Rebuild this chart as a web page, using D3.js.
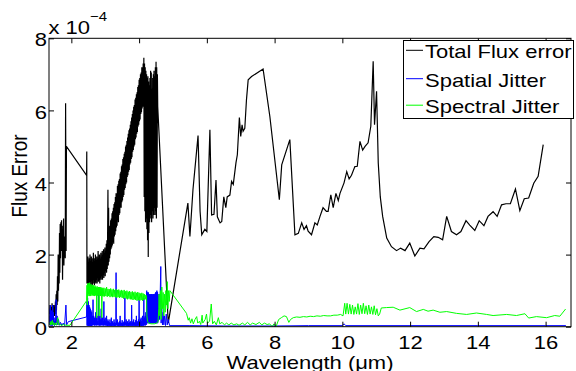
<!DOCTYPE html>
<html><head><meta charset="utf-8">
<script src="https://cdn.jsdelivr.net/npm/d3@7"></script>
<style>body{margin:0;background:#fff}</style>
</head><body>
<svg id="chart" width="576" height="371"></svg>
<script>
// wavelength (µm), flux error (units of 1e-4)
const totalFluxError = [
[1.36,0.35],[1.37,0.6],[1.38,0.2],[1.39,0.55],[1.40,0.25],[1.41,0.5],[1.42,0.3],[1.43,0.65],[1.44,0.3],[1.45,0.55],[1.46,0.25],[1.47,0.6],[1.48,0.35],[1.49,0.5],[1.50,0.3],[1.51,0.6],[1.52,0.4],[1.53,0.7],[1.54,0.35],[1.55,0.9],[1.56,0.45],[1.57,1.0],[1.58,0.6],[1.59,1.4],[1.60,0.7],[1.61,2.0],[1.62,1.0],[1.63,1.8],[1.64,1.2],[1.65,2.6],[1.66,1.5],[1.67,2.85],[1.68,1.9],[1.69,2.9],[1.70,2.1],[1.71,2.95],[1.72,2.3],[1.73,2.8],[1.74,1.3],[1.75,2.7],[1.76,2.0],[1.77,3.0],[1.78,1.7],[1.79,2.5],[1.80,2.0],[1.81,2.3],[1.82,1.9],[1.83,6.2],[1.845,2.1],[1.855,5.0],
[2.45,4.2],[2.455,4.86],
[2.46,1.2],[2.47,1.85],[2.48,1.15],[2.49,1.95],[2.50,1.1],[2.51,1.7],[2.52,1.3],[2.53,1.9],[2.54,1.15],[2.55,2.0],[2.56,1.25],[2.57,1.8],[2.58,1.1],[2.59,1.95],[2.60,1.3],[2.61,1.75],[2.62,1.15],[2.63,1.9],[2.64,1.2],[2.65,2.05],[2.66,1.3],[2.67,1.8],[2.68,1.15],[2.69,1.9],[2.70,1.25],[2.71,2.0],[2.72,1.2],[2.73,1.85],[2.74,1.3],[2.75,1.95],[2.76,1.2],[2.77,1.8],[2.78,1.35],[2.79,2.1],[2.80,1.25],[2.81,1.9],[2.82,1.3],[2.83,2.0],[2.84,1.2],[2.85,1.85],[2.86,1.35],[2.87,2.05],[2.88,1.3],[2.89,1.9],[2.90,1.4],[2.91,2.1],[2.92,1.3],[2.93,1.95],[2.94,1.45],[2.95,2.15],[2.96,1.35],[2.97,2.0],[2.98,1.5],[2.99,2.2],[3.00,1.4],[3.01,2.1],[3.02,1.55],[3.03,2.3],[3.04,1.5],[3.05,2.4],[3.06,1.6],[3.07,2.5],[3.08,3.8],[3.09,1.7],[3.10,3.3],[3.11,1.8],[3.12,2.6],[3.13,1.9],[3.14,2.8],
[3.15,2.0],[3.16,2.95],[3.17,2.15],[3.18,3.0],[3.19,2.2],[3.20,3.15],[3.21,2.25],[3.22,3.2],[3.23,2.35],[3.24,3.3],[3.25,2.3],[3.26,3.4],[3.27,2.5],[3.28,3.45],[3.29,2.55],[3.30,3.6],[3.31,2.65],[3.32,3.7],[3.33,2.75],[3.34,3.7],[3.35,2.8],[3.36,3.9],[3.37,2.95],[3.38,3.95],[3.39,2.9],[3.40,4.05],[3.41,3.1],[3.42,4.1],[3.43,3.15],[3.44,4.25],[3.45,3.3],[3.46,4.3],[3.47,3.3],[3.48,4.45],[3.49,3.45],[3.50,4.5],[3.51,3.5],[3.52,4.65],[3.53,3.6],[3.54,4.7],[3.55,3.65],[3.56,4.8],[3.57,3.8],[3.58,4.85],[3.59,3.85],[3.60,5.0],[3.61,3.95],[3.62,5.05],[3.63,4.0],[3.64,5.15],[3.65,4.15],[3.66,5.25],[3.67,4.2],[3.68,5.35],[3.69,4.3],[3.70,5.45],[3.71,4.35],[3.72,5.5],[3.73,4.5],[3.74,5.6],[3.75,4.55],[3.76,5.7],[3.77,4.65],[3.78,5.8],[3.79,4.7],[3.80,5.9],[3.81,4.85],[3.82,6.0],[3.83,4.9],[3.84,6.1],[3.85,5.0],[3.86,6.15],[3.87,5.05],[3.88,6.3],[3.89,5.2],[3.90,6.35],[3.91,5.25],[3.92,6.45],[3.93,5.35],[3.94,6.5],[3.95,5.4],[3.96,6.65],[3.97,5.55],[3.98,6.7],[3.99,5.6],[4.00,6.85],[4.01,5.7],[4.02,6.9],[4.03,5.75],[4.04,7.0],[4.05,5.9],[4.06,7.05],[4.07,5.95],[4.08,7.2],[4.09,6.05],[4.10,7.2],[4.11,6.1],[4.12,7.3],[4.13,6.2],[4.14,7.46],
[4.15,3.6],[4.16,7.3],[4.17,3.2],[4.18,7.2],[4.19,2.9],[4.20,7.1],[4.21,3.0],[4.22,7.0],[4.23,2.7],[4.24,6.9],[4.25,2.4],[4.26,6.95],[4.27,1.93],[4.28,6.8],[4.29,2.6],[4.30,6.7],[4.31,2.9],[4.32,6.9],[4.33,3.1],[4.34,7.1],[4.35,3.0],[4.36,7.05],[4.37,2.9],[4.38,6.6],[4.39,3.2],[4.40,6.9],[4.41,3.0],[4.42,7.0],[4.43,3.1],[4.44,7.1],[4.45,3.3],[4.46,6.95],[4.47,3.1],[4.48,7.2],[4.49,3.2],[4.50,7.35],[4.51,3.0],[4.52,7.2],[4.53,3.3],[4.54,7.0],[4.55,6.1],
[4.86,0.1],[5.44,3.43],[5.50,2.5],[5.59,3.8],[5.74,5.3],[5.80,3.2],[5.85,2.55],[5.94,2.7],[6.00,2.64],[6.09,5.46],[6.14,3.1],[6.21,3.12],[6.27,4.07],[6.31,3.05],[6.39,2.88],[6.44,2.92],[6.50,3.6],[6.56,3.3],[6.60,3.6],[6.68,3.65],[6.73,4.03],[6.78,3.95],[6.86,4.55],[6.90,4.77],[6.96,5.8],[7.00,5.28],[7.04,5.6],[7.07,5.42],[7.12,5.5],[7.17,6.3],[7.22,6.85],[7.32,6.94],[7.66,7.15],[7.86,5.83],[8.14,3.52],[8.21,4.49],[8.45,5.19],[8.60,2.55],[8.70,2.59],[8.80,2.88],[8.87,2.7],[8.94,2.8],[8.99,2.65],[9.09,2.55],[9.19,2.88],[9.26,2.82],[9.34,3.06],[9.43,3.3],[9.53,3.2],[9.58,3.2],[9.66,3.66],[9.73,3.3],[9.81,3.7],[9.88,3.5],[9.93,3.7],[10.05,3.99],[10.13,4.3],[10.20,4.1],[10.27,4.2],[10.37,4.44],[10.44,4.45],[10.52,5.14],[10.60,4.9],[10.67,5.0],[10.76,5.1],[10.84,5.56],[10.91,7.36],[10.95,5.6],[11.01,6.53],[11.06,4.54],[11.12,3.6],[11.19,3.06],[11.31,2.46],[11.45,2.22],[11.60,2.11],[11.72,2.18],[11.85,2.11],[11.99,2.32],[12.14,1.96],[12.29,2.18],[12.41,2.16],[12.56,2.36],[12.70,2.5],[12.83,2.48],[12.96,2.41],[13.08,3.06],[13.22,2.64],[13.37,2.55],[13.50,2.64],[13.65,2.94],[13.76,2.82],[13.91,2.67],[14.04,2.94],[14.18,2.8],[14.30,3.06],[14.45,3.19],[14.57,3.06],[14.70,3.38],[14.83,3.41],[14.96,3.41],[15.11,3.82],[15.24,3.22],[15.37,3.55],[15.50,3.57],[15.65,3.98],[15.78,4.17],[15.93,5.05]
];
const spatialJitter = [
[1.36,0.3],[1.365,0.05],[1.37,0.5],[1.375,0.1],[1.38,0.6],[1.385,0.05],[1.39,0.35],[1.40,0.02],[1.41,0.45],[1.42,0.08],[1.43,0.3],[1.44,0.03],[1.45,0.6],[1.46,0.1],[1.47,0.4],[1.48,0.05],[1.49,0.25],[1.50,0.03],[1.51,0.15],[1.53,0.05],[1.55,0.75],[1.56,0.1],[1.58,0.3],[1.60,0.05],[1.62,0.2],[1.65,0.04],[1.68,0.12],[1.72,0.04],[1.76,0.1],[1.80,0.03],[1.84,0.6],[1.86,0.05],[1.91,0.14],[2.45,0.27],
[2.46,0.7],[2.465,0.03],[2.47,0.6],[2.475,0.05],[2.48,0.8],[2.485,0.03],[2.49,0.65],[2.495,0.04],[2.50,0.7],[2.505,0.02],[2.51,0.55],[2.515,0.05],[2.52,0.6],[2.525,0.03],[2.53,0.5],[2.535,0.04],[2.54,0.55],[2.545,0.02],[2.55,0.45],[2.555,0.05],[2.56,0.5],[2.565,0.03],[2.57,0.4],[2.575,0.02],[2.58,0.45],[2.585,0.04],[2.59,0.35],[2.595,0.02],[2.60,0.4],[2.61,0.05],[2.62,0.3],[2.63,0.03],[2.64,0.75],[2.65,0.05],[2.66,0.3],[2.67,0.04],[2.68,0.25],[2.69,0.03],[2.70,0.2],[2.71,0.05],[2.72,0.4],[2.73,0.03],[2.74,0.25],[2.75,0.04],[2.76,0.3],[2.77,0.05],[2.78,0.15],[2.79,0.03],[2.80,1.0],[2.81,0.05],[2.82,0.25],[2.83,0.03],[2.84,0.3],[2.85,0.04],[2.86,0.2],[2.87,0.03],[2.88,0.5],[2.89,0.05],[2.90,0.2],[2.91,0.03],[2.92,0.25],[2.93,0.05],[2.94,0.15],[2.95,0.03],[2.96,0.7],[2.97,0.05],[2.98,0.2],[2.99,0.03],[3.00,0.25],[3.01,0.04],[3.02,0.15],[3.03,0.03],[3.04,0.3],[3.05,0.03],[3.06,0.15],[3.07,0.02],[3.08,0.2],[3.09,0.03],[3.10,0.15],[3.11,0.02],[3.12,0.12],[3.13,0.03],[3.14,0.2],[3.15,0.02],[3.16,0.1],[3.17,0.03],[3.18,0.25],[3.19,0.02],[3.20,0.12],[3.21,0.03],[3.22,0.15],[3.23,0.02],[3.24,0.1],[3.25,0.03],[3.26,0.2],[3.27,0.02],[3.28,0.12],[3.29,0.03],[3.30,0.1],[3.31,0.02],[3.32,1.5],[3.33,0.05],[3.34,0.15],[3.35,0.02],[3.36,0.2],[3.37,0.03],[3.38,0.12],[3.39,0.02],[3.40,0.1],[3.41,0.03],[3.42,0.15],[3.43,0.02],[3.44,0.3],[3.45,0.03],[3.46,0.12],[3.47,0.02],[3.48,0.1],[3.49,0.03],[3.50,0.18],[3.51,0.02],[3.52,0.1],[3.53,0.03],[3.54,0.12],[3.55,0.02],[3.56,0.15],[3.57,0.03],[3.58,0.8],[3.59,0.05],[3.60,0.12],[3.61,0.02],[3.62,0.2],[3.63,0.03],[3.64,0.1],[3.65,0.02],[3.66,0.15],[3.67,0.03],[3.68,0.1],[3.69,0.02],[3.70,0.2],[3.71,0.03],[3.72,0.12],[3.73,0.02],[3.74,0.15],[3.75,0.03],[3.76,0.1],[3.77,0.02],[3.78,0.6],[3.79,0.05],[3.80,0.12],[3.81,0.02],[3.82,0.15],[3.83,0.03],[3.84,0.2],[3.85,0.02],[3.86,0.12],[3.87,0.03],[3.88,0.1],[3.89,0.02],[3.90,0.18],[3.91,0.03],[3.92,0.3],[3.93,0.02],[3.94,0.12],[3.95,0.03],[3.96,0.15],[3.97,0.02],[3.98,0.2],[3.99,0.03],[4.00,0.75],[4.01,0.05],[4.02,0.15],[4.03,0.02],[4.04,0.2],[4.05,0.03],[4.06,0.25],[4.07,0.02],[4.08,0.15],[4.09,0.03],[4.10,0.3],[4.11,0.02],[4.12,0.2],[4.13,0.03],[4.14,0.8],[4.15,0.05],[4.16,0.25],[4.17,0.03],[4.18,0.3],[4.19,0.04],[4.20,0.4],[4.21,0.05],[4.22,0.5],
[4.225,1.0],[4.23,0.1],[4.235,0.95],[4.24,0.1],[4.245,0.95],[4.25,0.1],[4.255,0.9],[4.26,0.1],[4.265,0.9],[4.27,0.1],[4.275,0.95],[4.28,0.1],[4.285,0.9],[4.29,0.1],[4.295,0.88],[4.30,0.1],[4.305,0.9],[4.31,0.1],[4.315,0.85],[4.32,0.1],[4.325,0.9],[4.33,0.1],[4.335,0.85],[4.34,0.1],[4.345,0.9],[4.35,0.1],[4.355,0.85],[4.36,0.1],[4.365,0.9],[4.37,0.1],[4.375,0.85],[4.38,0.1],[4.385,0.9],[4.39,0.1],[4.395,0.85],[4.40,0.1],[4.405,0.9],[4.41,0.1],[4.415,0.85],[4.42,0.1],[4.425,0.9],[4.43,0.1],[4.435,0.88],[4.44,0.1],[4.445,0.9],[4.45,0.1],[4.455,0.85],[4.46,0.1],[4.465,0.9],[4.47,0.1],[4.475,0.92],[4.48,0.1],[4.485,0.95],[4.49,0.1],[4.495,0.9],[4.50,0.1],[4.505,0.95],[4.51,0.1],[4.515,0.9],[4.52,0.1],[4.525,1.0],[4.53,0.1],[4.535,0.95],[4.54,0.1],[4.545,0.95],[4.55,0.1],[4.555,0.9],[4.56,0.15],[4.57,0.85],[4.58,0.2],[4.59,0.9],[4.60,0.2],[4.62,0.8],[4.64,1.67],[4.65,0.1],[4.67,0.5],[4.69,0.05],[4.71,0.4],[4.73,0.05],[4.75,0.3],[4.78,0.03],[4.80,0.35],[4.83,0.05],[4.86,0.2],[4.90,0.03],
[5.5,0.03],[6.5,0.02],[8.0,0.02],[9.0,0.03],[10.0,0.03],[10.05,0.08],[10.1,0.03],[12.0,0.03],[14.0,0.03],[16.0,0.03],[16.6,0.03]
];
const spectralJitter = [
[1.36,0.12],[1.38,0.05],[1.40,0.15],[1.42,0.06],[1.44,0.18],[1.46,0.05],[1.48,0.12],[1.50,0.04],[1.53,0.1],[1.56,0.04],[1.60,0.25],[1.62,0.05],[1.66,0.08],[1.70,0.03],[1.76,0.06],[1.84,0.04],[1.96,0.04],[2.45,0.72],
[2.46,1.15],[2.47,0.6],[2.48,1.2],[2.49,0.85],[2.50,1.2],[2.51,0.9],[2.52,1.15],[2.53,0.85],[2.54,1.22],[2.55,0.9],[2.56,1.15],[2.57,0.85],[2.58,1.18],[2.59,0.9],[2.60,1.1],[2.61,0.86],[2.62,1.16],[2.63,0.88],[2.64,1.12],[2.65,0.86],[2.66,1.15],[2.67,0.9],[2.68,1.1],[2.69,0.85],[2.70,1.14],[2.71,0.88],[2.72,1.1],[2.73,0.86],[2.74,1.08],[2.75,0.25],[2.76,1.12],[2.77,0.86],[2.78,1.08],[2.79,0.88],[2.80,1.1],[2.81,0.85],[2.82,0.3],[2.83,1.1],[2.84,0.86],[2.85,1.06],[2.86,0.85],[2.87,1.1],[2.88,0.88],[2.89,1.06],[2.90,0.25],[2.91,1.08],[2.92,0.86],[2.93,1.05],[2.94,0.84],[2.96,1.08],[2.98,0.84],[3.00,1.06],[3.02,0.85],[3.04,1.1],[3.06,0.83],[3.08,1.05],[3.10,0.85],[3.12,1.04],[3.14,0.82],[3.16,1.06],[3.18,0.84],[3.20,1.03],[3.22,0.82],[3.24,1.05],[3.26,0.83],[3.28,1.02],[3.30,0.82],[3.32,1.04],[3.34,0.8],[3.36,1.02],[3.38,0.82],[3.40,1.03],[3.42,0.8],[3.44,1.0],[3.46,0.82],[3.48,1.02],[3.50,0.8],[3.52,1.0],[3.54,0.78],[3.56,1.02],[3.58,0.8],[3.60,0.98],[3.62,0.78],[3.64,1.0],[3.66,0.76],[3.68,0.97],[3.70,0.78],[3.72,0.99],[3.74,0.76],[3.76,0.96],[3.78,0.76],[3.80,0.98],[3.82,0.74],[3.84,0.95],[3.86,0.76],[3.88,0.97],[3.90,0.74],[3.92,0.94],[3.94,0.72],[3.96,0.96],[3.98,0.74],[4.00,0.94],[4.02,0.72],[4.04,0.92],[4.06,0.74],[4.08,0.94],[4.10,0.72],[4.12,0.92],[4.14,0.74],[4.16,0.9],[4.18,0.76],[4.20,0.88],[4.22,0.84],
[4.23,0.3],[4.25,0.15],[4.28,0.1],[4.35,0.08],[4.45,0.08],[4.52,0.1],[4.56,0.15],[4.58,0.5],[4.59,0.9],
[4.61,0.3],[4.63,1.0],[4.65,0.2],[4.67,1.1],[4.69,0.5],[4.71,0.95],[4.73,0.3],[4.75,0.9],[4.77,0.4],[4.79,1.0],[4.81,0.6],[4.83,1.25],[4.85,0.5],[4.87,1.0],[4.89,0.7],[4.91,1.0],
[5.40,0.37],[5.45,0.18],[5.48,0.25],[5.52,0.1],[5.56,0.22],[5.60,0.08],[5.65,0.2],[5.70,0.28],[5.73,0.1],[5.78,0.15],[5.82,0.06],[5.86,0.32],[5.88,0.1],[5.95,0.2],[5.99,0.35],[6.02,0.1],[6.08,0.15],[6.13,0.63],[6.17,0.08],[6.22,0.15],[6.28,0.05],[6.34,0.25],[6.38,0.08],[6.45,0.12],[6.52,0.05],[6.58,0.1],[6.65,0.05],[6.72,0.1],[6.80,0.05],[6.88,0.08],[6.95,0.04],[7.05,0.1],[7.12,0.05],[7.20,0.12],[7.28,0.05],[7.35,0.1],[7.45,0.06],[7.55,0.12],[7.62,0.05],[7.70,0.1],[7.78,0.06],[7.85,0.08],[7.93,0.0],[7.98,0.08],[8.05,0.02],[8.12,0.2],[8.20,0.25],[8.28,0.3],[8.35,0.28],[8.42,0.12],[8.47,0.2],[8.55,0.25],[8.65,0.27],[8.75,0.26],[8.85,0.28],[8.95,0.27],[9.05,0.29],[9.15,0.28],[9.25,0.3],[9.35,0.29],[9.45,0.31],[9.55,0.3],[9.65,0.3],[9.75,0.32],[9.85,0.32],[9.95,0.34],[10.02,0.3],
[10.07,0.65],[10.10,0.35],[10.14,0.65],[10.18,0.35],[10.22,0.62],[10.26,0.35],[10.30,0.6],[10.34,0.34],[10.38,0.55],[10.42,0.35],[10.46,0.64],[10.50,0.34],[10.54,0.6],[10.58,0.36],[10.62,0.65],[10.66,0.36],[10.70,0.58],[10.74,0.34],[10.78,0.6],[10.82,0.35],[10.86,0.55],[10.90,0.34],[10.94,0.58],[10.98,0.33],[11.02,0.5],[11.06,0.3],[11.10,0.35],
[11.15,0.52],[11.30,0.53],[11.50,0.54],[11.70,0.46],[11.99,0.53],[12.19,0.42],[12.39,0.48],[12.53,0.43],[12.68,0.46],[12.88,0.40],[13.08,0.42],[13.37,0.37],[13.67,0.34],[13.96,0.38],[14.26,0.34],[14.45,0.31],[14.85,0.34],[15.14,0.31],[15.39,0.36],[15.50,0.24],[15.73,0.28],[16.03,0.25],[16.27,0.31],[16.42,0.29],[16.59,0.49]
];
const xTicks = [2,4,6,8,10,12,14,16];
const yTicks = [0,2,4,6,8];
const seriesNames = ["Total Flux error","Spatial Jitter","Spectral Jitter"];
const seriesColors = ["#000000","#0000ff","#00ff00"];

const svg = d3.select("#chart");
const FONT = '"Liberation Sans", Arial, Helvetica, sans-serif';
const SY = 0.86;
const m = {left:49, right:571, top:38.3, bottom:326.7};
const x = d3.scaleLinear().domain([1.34,16.75]).range([m.left,m.right]);
const y = d3.scaleLinear().domain([0,8]).range([m.bottom,m.top]);

svg.append("rect").attr("width",576).attr("height",371).attr("fill","#fff");

svg.append("defs").append("clipPath").attr("id","clip").append("rect")
  .attr("x",m.left).attr("y",m.top).attr("width",m.right-m.left).attr("height",m.bottom-m.top);

const line = d3.line().x(d=>x(d[0])).y(d=>y(d[1]));
const series = [totalFluxError, spatialJitter, spectralJitter];
const widths = [1.2,1,1];
const gl = svg.append("g").attr("clip-path","url(#clip)");
series.forEach((s,i)=>{
  gl.append("path").datum(s).attr("d",line).attr("fill","none")
    .attr("stroke",seriesColors[i]).attr("stroke-width",widths[i]).attr("stroke-linejoin","miter");
});

// axes
function styleAxis(g){
  g.attr("font-family",FONT).attr("font-size",22);
  g.select(".domain").remove();
  g.selectAll("line").attr("stroke","#000");
  g.selectAll("text").attr("fill","#000");
}
const gx = svg.append("g").attr("transform",`translate(0,${m.bottom})`)
  .call(d3.axisBottom(x).tickValues(xTicks).tickSizeInner(-5).tickSizeOuter(0).tickFormat(d3.format("d")));
styleAxis(gx);
gx.selectAll("text").attr("y",null).attr("dy",null).attr("transform",`translate(0,22.3) scale(1,${SY})`);

const gxt = svg.append("g").attr("transform",`translate(0,${m.top})`)
  .call(d3.axisTop(x).tickValues(xTicks).tickSizeInner(-5).tickSizeOuter(0).tickFormat(""));
styleAxis(gxt);

const gy = svg.append("g").attr("transform",`translate(${m.left},0)`)
  .call(d3.axisLeft(y).tickValues(yTicks).tickSizeInner(-5).tickSizeOuter(0).tickFormat(d3.format("d")));
styleAxis(gy);
gy.selectAll("text").attr("x",-2).attr("dy",null).attr("transform",`translate(0,7.6) scale(1,${SY})`);

const gyr = svg.append("g").attr("transform",`translate(${m.right},0)`)
  .call(d3.axisRight(y).tickValues(yTicks).tickSizeInner(-5).tickSizeOuter(0).tickFormat(""));
styleAxis(gyr);

svg.append("rect").attr("x",m.left).attr("y",m.top).attr("width",m.right-m.left).attr("height",m.bottom-m.top)
  .attr("fill","none").attr("stroke","#000").attr("stroke-width",1);

// exponent label
svg.append("text").attr("font-family",FONT).attr("fill","#000").attr("font-size",22)
  .attr("transform",`translate(48.5,34.3) scale(1,${SY})`).text("x 10");
svg.append("text").attr("font-family",FONT).attr("fill","#000").attr("font-size",15)
  .attr("transform",`translate(90,21) scale(1,${SY})`).text("\u22124");

// axis labels
svg.append("text").attr("font-family",FONT).attr("font-size",22).attr("fill","#000").attr("text-anchor","middle")
  .attr("transform",`translate(310,368.5) scale(1,${SY})`).text("Wavelength (\u03bcm)");
svg.append("text").attr("font-family",FONT).attr("font-size",22).attr("fill","#000").attr("text-anchor","middle")
  .attr("transform",`translate(27,176) scale(1,${SY}) rotate(-90)`).text("Flux Error");

// legend
const lg = svg.append("g");
lg.append("rect").attr("x",403.5).attr("y",40.5).attr("width",170).attr("height",78)
  .attr("fill","#fff").attr("stroke","#000").attr("stroke-width",1);
const baselines = [58.3,86.7,113.2];
seriesNames.forEach((n,i)=>{
  lg.append("line").attr("x1",406).attr("x2",423).attr("y1",baselines[i]-8).attr("y2",baselines[i]-8)
    .attr("stroke",seriesColors[i]).attr("stroke-width",1);
  lg.append("text").attr("font-family",FONT).attr("font-size",22).attr("fill","#000")
    .attr("transform",`translate(425,${baselines[i]}) scale(1,${SY})`).text(n);
});
</script>
</body></html>
